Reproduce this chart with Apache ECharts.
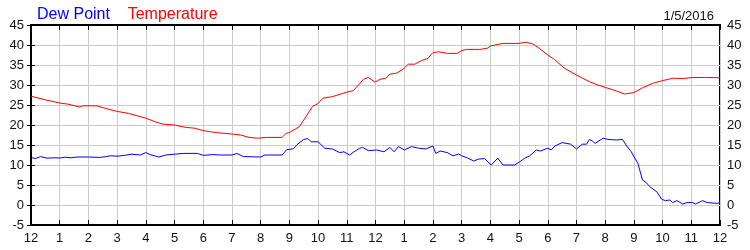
<!DOCTYPE html>
<html>
<head>
<meta charset="utf-8">
<script src="https://cdn.jsdelivr.net/npm/echarts@6/dist/echarts.min.js"></script>
<style>html,body{margin:0;padding:0;background:#fff}#c{width:750px;height:250px}</style>
</head>
<body>
<div id="c"></div>
<script>
const hourLabels = ['12','1','2','3','4','5','6','7','8','9','10','11','12','1','2','3','4','5','6','7','8','9','10','11','12'];
const dateLabel = '1/5/2016';

const tempTimes = [0,0.5,1,1.3,1.7,1.8,2.3,2.57,3,3.4,4,4.33,4.6,5,5.4,5.7,6,6.45,7,7.3,7.6,7.9,8.2,8.75,8.88,9,9.35,9.58,9.8,10,10.17,10.5,11,11.23,11.58,11.75,11.98,12.15,12.35,12.5,12.75,13,13.14,13.37,13.6,13.83,14,14.2,14.5,14.85,15,15.17,15.63,15.9,16,16.44,17,17.25,17.48,17.7,18,18.23,18.58,19,19.46,19.75,20,20.4,20.68,21,21.3,21.65,22,22.37,22.7,23,23.5,24];
const tempValues = [27.2,26.3,25.5,25.2,24.5,24.8,24.8,24.2,23.4,22.9,21.7,20.8,20.2,20,19.4,19.2,18.6,18.1,17.75,17.5,16.9,16.7,16.9,16.9,17.9,18.1,19.6,22.1,24.6,25.4,26.7,27.1,28.2,28.6,31.4,31.9,30.7,31.4,31.7,32.7,33,34.2,35.2,35.2,36.1,36.7,38.1,38.3,37.9,37.9,38.6,38.9,38.9,39.2,39.75,40.4,40.4,40.7,40.25,39.2,37.5,36.4,34.2,32.5,30.8,30,29.4,28.5,27.75,28.1,29.3,30.4,31.1,31.7,31.6,31.85,31.9,31.8];

const dewTimes = [0,0.15,0.33,0.56,0.8,1,1.2,1.4,1.6,2,2.4,2.6,2.77,3,3.25,3.5,3.8,4,4.15,4.45,4.7,5,5.3,5.8,6,6.3,6.6,7,7.17,7.4,8,8.15,8.75,8.9,9.15,9.25,9.5,9.65,9.76,10,10.23,10.5,10.75,10.9,11.1,11.25,11.45,11.55,11.75,12.05,12.3,12.5,12.65,12.8,13,13.25,13.5,13.75,14,14.1,14.25,14.5,14.7,14.9,15,15.2,15.42,15.6,15.8,16.03,16.26,16.44,16.85,17.02,17.2,17.37,17.6,17.75,18,18.12,18.25,18.5,18.8,19,19.2,19.35,19.45,19.55,19.65,19.93,20.1,20.4,20.45,20.6,20.75,20.9,21.14,21.3,21.43,21.55,21.8,21.97,22.1,22.25,22.35,22.5,22.7,22.85,23.05,23.15,23.4,23.55,23.9,24];
const dewValues = [11.9,11.6,12.1,11.7,11.8,11.75,11.95,11.8,12,12,11.9,12.1,12.3,12.2,12.4,12.7,12.5,13.1,12.6,12,12.5,12.7,12.9,12.9,12.4,12.6,12.5,12.5,12.9,12.1,12,12.5,12.5,13.8,14.1,15,16.4,16.6,15.8,15.8,14.2,14,13.1,13.3,12.5,13.3,14.2,14.4,13.6,13.75,13.3,14.4,13.3,14.6,13.75,14.6,14.2,14,14.75,12.9,13.5,13.1,12.3,12.75,12.3,11.8,11,11.5,11.6,10,11.7,10,10,10.8,11.7,12.3,13.75,13.5,14.2,13.8,14.75,15.6,15.2,14,15.2,15.2,16.4,16,15.4,16.7,16.4,16.25,15.8,16.4,14.75,13.4,10.4,6.25,5.6,4.6,3.3,1.4,1.1,1.25,0.6,1.1,0.25,0.6,0.6,0.25,1.1,0.6,0.4,0.6];

const zip = (a, b) => a.map((x, i) => [x, b[i]]);
const labelColor = '#111';
const font = 'Liberation Sans, Arial, sans-serif';

const yCommon = {
  type: 'value', min: -5, max: 45, interval: 5,
  axisLine: { show: true, lineStyle: { color: '#000', width: 2 } },
  axisTick: { show: true, inside: true, length: 4, lineStyle: { color: '#000' } },
  axisLabel: { color: labelColor, fontSize: 13, fontFamily: font, margin: 7 },
  splitLine: { show: false }
};

const chart = echarts.init(document.getElementById('c'), null, { renderer: 'canvas' });
chart.setOption({
  animation: false,
  backgroundColor: '#fff',
  title: [
    { text: '{b|Dew Point}    {r|Temperature}', left: 32, top: 2,
      textStyle: { fontWeight: 'normal', fontSize: 16, fontFamily: font, rich: {
        b: { color: '#0000ff', fontSize: 16, fontWeight: 'normal', fontFamily: font },
        r: { color: '#ff0000', fontSize: 16, fontWeight: 'normal', fontFamily: font } } } },
    { text: dateLabel, right: 31, top: 5,
      textStyle: { color: labelColor, fontSize: 13, fontWeight: 'normal', fontFamily: font } }
  ],
  grid: { left: 31, right: 30, top: 25, bottom: 25, show: true, borderColor: '#000', borderWidth: 2 },
  xAxis: [
    { type: 'value', min: 0, max: 24, interval: 1, position: 'bottom',
      axisLine: { show: true, onZero: false, lineStyle: { color: '#000', width: 2 } },
      axisTick: { show: true, inside: true, length: 5, lineStyle: { color: '#000' } },
      axisLabel: { color: labelColor, fontSize: 13, fontFamily: font, margin: 7,
        formatter: v => hourLabels[Math.round(v)] },
      splitLine: { show: true, lineStyle: { color: '#cccccc', width: 1 } } },
    { type: 'value', min: 0, max: 24, interval: 1, position: 'top',
      axisLine: { show: true, onZero: false, lineStyle: { color: '#000', width: 2 } },
      axisTick: { show: true, inside: true, length: 5, lineStyle: { color: '#000' } },
      axisLabel: { show: false }, splitLine: { show: false } }
  ],
  yAxis: [
    Object.assign({}, yCommon, { position: 'left',
      splitLine: { show: true, lineStyle: { color: '#cccccc', width: 1 } } }),
    Object.assign({}, yCommon, { position: 'right' })
  ],
  series: [
    { name: 'Dew Point', type: 'line', data: zip(dewTimes, dewValues), showSymbol: false,
      lineStyle: { color: '#0000ff', width: 1 }, itemStyle: { color: '#0000ff' }, z: 3 },
    { name: 'Temperature', type: 'line', data: zip(tempTimes, tempValues), showSymbol: false,
      lineStyle: { color: '#ff0000', width: 1 }, itemStyle: { color: '#ff0000' }, z: 3 }
  ]
});
</script>
</body>
</html>
